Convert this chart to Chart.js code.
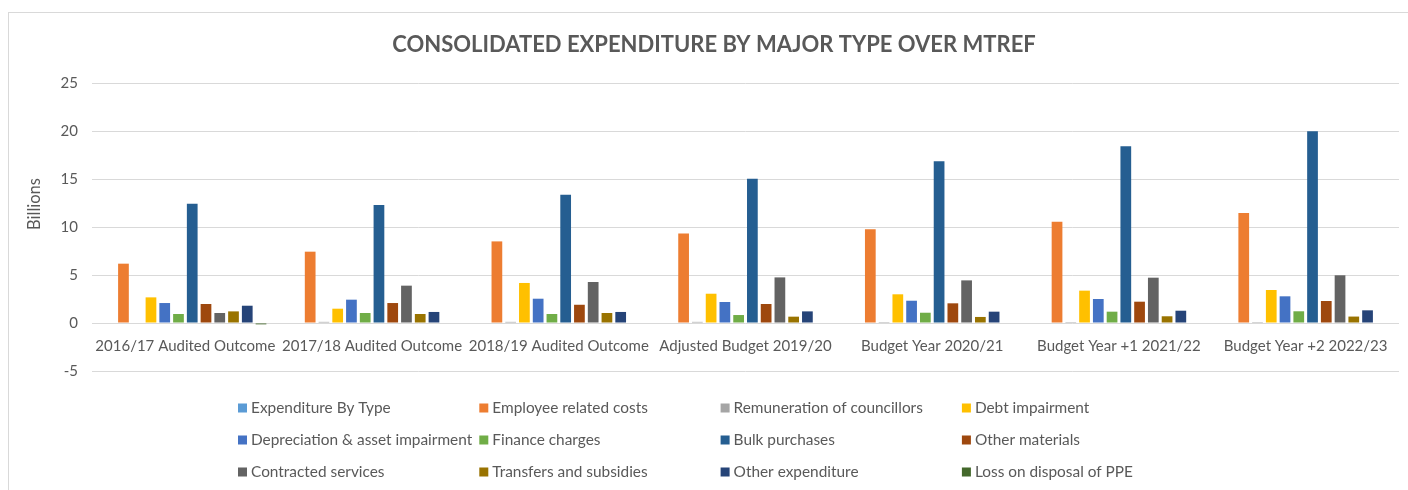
<!DOCTYPE html>
<html>
<head>
<meta charset="utf-8">
<script src="https://cdn.jsdelivr.net/npm/chart.js@4/dist/chart.umd.min.js"></script>
<style>
  html, body { margin: 0; padding: 0; background: #ffffff; }
  #wrap { position: relative; width: 1408px; height: 490px; }
</style>
</head>
<body>
<div id="wrap"><canvas id="c" width="1408" height="490"></canvas></div>
<script>
// Budget periods along the horizontal axis
const categories = [
  '2016/17 Audited Outcome',
  '2017/18 Audited Outcome',
  '2018/19 Audited Outcome',
  'Adjusted Budget 2019/20',
  'Budget Year 2020/21',
  'Budget Year +1 2021/22',
  'Budget Year +2 2022/23'
];

// Expenditure by type, in billions
const expenditureByType = [null, null, null, null, null, null, null];
const employeeRelatedCosts = [6.18, 7.43, 8.50, 9.33, 9.76, 10.55, 11.46];
const remunerationOfCouncillors = [0, 0.12, 0.12, 0.12, 0.10, 0.10, 0.10];
const debtImpairment = [2.67, 1.49, 4.17, 3.05, 2.99, 3.37, 3.44];
const depreciationAssetImpairment = [2.08, 2.43, 2.53, 2.19, 2.32, 2.50, 2.78];
const financeCharges = [0.94, 1.04, 0.94, 0.83, 1.07, 1.18, 1.22];
const bulkPurchases = [12.43, 12.29, 13.37, 15.03, 16.84, 18.40, 19.97];
const otherMaterials = [1.98, 2.08, 1.90, 1.98, 2.05, 2.22, 2.29];
const contractedServices = [1.04, 3.89, 4.27, 4.75, 4.44, 4.72, 4.97];
const transfersAndSubsidies = [1.21, 0.94, 1.04, 0.66, 0.63, 0.70, 0.67];
const otherExpenditure = [1.80, 1.15, 1.15, 1.21, 1.18, 1.28, 1.32];
const lossOnDisposalOfPPE = [-0.14, 0, 0, 0, 0, 0, 0];

// Value axis ticks
const yTicks = [-5, 0, 5, 10, 15, 20, 25];

const seriesNames = [
  'Expenditure By Type', 'Employee related costs', 'Remuneration of councillors', 'Debt impairment',
  'Depreciation & asset impairment', 'Finance charges', 'Bulk purchases', 'Other materials',
  'Contracted services', 'Transfers and subsidies', 'Other expenditure', 'Loss on disposal of PPE'
];
const seriesValues = [
  expenditureByType, employeeRelatedCosts, remunerationOfCouncillors, debtImpairment,
  depreciationAssetImpairment, financeCharges, bulkPurchases, otherMaterials,
  contractedServices, transfersAndSubsidies, otherExpenditure, lossOnDisposalOfPPE
];
const seriesColors = [
  '#5B9BD5', '#ED7D31', '#A5A5A5', '#FFC000',
  '#4472C4', '#70AD47', '#255E91', '#9E480E',
  '#636363', '#997300', '#264478', '#43682B'
];

const TEXT = '#595959';
const GRID = '#d9d9d9';
const FONT = 'Lato, "Open Sans", sans-serif';

// Frame, title, axis caption and a column-aligned legend
const decorations = {
  id: 'decorations',
  beforeDraw(chart) {
    const ctx = chart.ctx;
    ctx.save();
    ctx.fillStyle = '#ffffff';
    ctx.fillRect(0, 0, chart.width, chart.height);
    ctx.strokeStyle = GRID;
    ctx.lineWidth = 1;
    ctx.strokeRect(8.5, 12.5, chart.width + 40, chart.height + 40);
    ctx.restore();
  },
  afterDraw(chart) {
    const ctx = chart.ctx;
    ctx.save();
    // title
    ctx.fillStyle = TEXT;
    ctx.font = 'bold 22px ' + FONT;
    ctx.textAlign = 'center';
    ctx.textBaseline = 'middle';
    ctx.fillText('CONSOLIDATED EXPENDITURE BY MAJOR TYPE OVER MTREF', 714, 45);
    // axis caption
    ctx.save();
    ctx.translate(35, 204);
    ctx.rotate(-Math.PI / 2);
    ctx.font = '16.5px ' + FONT;
    ctx.fillText('Billions', 0, 0);
    ctx.restore();
    // legend, 4 columns x 3 rows
    ctx.font = '15.4px ' + FONT;
    ctx.textAlign = 'left';
    chart.data.datasets.forEach((ds, i) => {
      const col = i % 4, row = Math.floor(i / 4);
      const x = 238 + col * 241.3;
      const y = 408 + row * 32;
      ctx.fillStyle = ds.backgroundColor;
      ctx.fillRect(x, y - 4.5, 9, 9);
      ctx.fillStyle = TEXT;
      ctx.fillText(ds.label, x + 13, y + 0.5);
    });
    ctx.restore();
  }
};

new Chart(document.getElementById('c'), {
  type: 'bar',
  data: {
    labels: categories,
    datasets: seriesNames.map((name, i) => ({
      label: name,
      data: seriesValues[i],
      backgroundColor: seriesColors[i],
      borderWidth: 0,
      categoryPercentage: 0.884,
      barPercentage: 0.78
    }))
  },
  options: {
    responsive: false,
    animation: false,
    layout: { padding: { top: 83, left: 0, right: 9, bottom: 119 } },
    plugins: {
      legend: { display: false },
      title: { display: false },
      tooltip: { enabled: false }
    },
    scales: {
      x: {
        position: { y: 0 },
        grid: { display: false, drawTicks: false },
        border: { display: false },
        ticks: { color: TEXT, font: { family: FONT, size: 15 }, padding: 14, maxRotation: 0, autoSkip: false }
      },
      y: {
        min: -5,
        max: 25,
        afterFit(scale) { scale.width = 92; },
        afterBuildTicks(scale) { scale.ticks = yTicks.map(v => ({ value: v })); },
        grid: { color: GRID, lineWidth: 1, drawTicks: false },
        border: { display: false },
        ticks: { color: TEXT, font: { family: FONT, size: 15 }, padding: 14 }
      }
    }
  },
  plugins: [decorations]
});
</script>
</body>
</html>
